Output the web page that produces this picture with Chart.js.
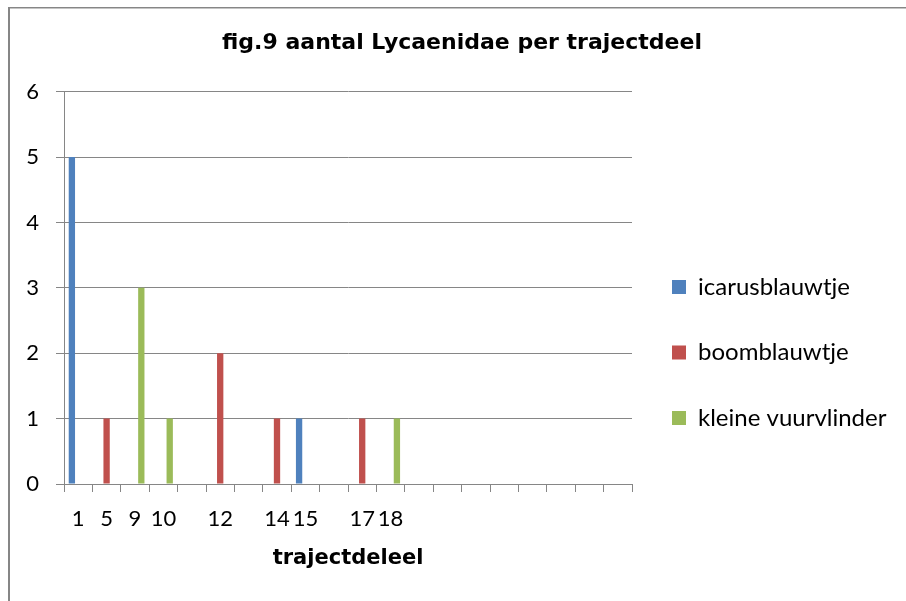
<!DOCTYPE html>
<html><head><meta charset="utf-8">
<script src="https://cdn.jsdelivr.net/npm/chart.js@4.4.1/dist/chart.umd.min.js"></script>
<style>html,body{margin:0;padding:0;background:#fff;}</style>
</head><body>
<canvas id="c" width="906" height="601"></canvas>
<script>
const categories = ['1','5','9','10','','12','','14','15','','17','18','','','','','','','',''];
const icarusblauwtje    = [5,null,null,null,null,null,null,null,1,null,null,null,null,null,null,null,null,null,null,null];
const boomblauwtje      = [null,1,null,null,null,2,null,1,null,null,1,null,null,null,null,null,null,null,null,null];
const kleineVuurvlinder = [null,null,3,1,null,null,null,null,null,null,null,1,null,null,null,null,null,null,null,null];
const seriesNames = ['icarusblauwtje','boomblauwtje','kleine vuurvlinder'];
const seriesColors = ['#4F81BD','#C0504D','#9BBB59'];
const yMin = 0, yMax = 6, yStep = 1;
const chartTitle = 'fig.9 aantal Lycaenidae per trajectdeel';
const xTitle = 'trajectdeleel';

const GRAY = '#868686';
const frame = {
  id: 'frame',
  beforeDraw(chart) {
    const ctx = chart.ctx;
    ctx.save();
    ctx.fillStyle = '#fff';
    ctx.fillRect(0, 0, chart.width, chart.height);
    ctx.fillStyle = GRAY;
    ctx.fillRect(8, 7, 2, chart.height - 7);
    ctx.fillRect(8, 7, chart.width - 8, 1);
    ctx.fillStyle = '#c4c4c4';
    ctx.fillRect(10, 8, chart.width - 10, 1);
    ctx.restore();
    const lg = chart.legend;
    lg.left = 630.5; lg.top = 233.5; lg.right = 906; lg.bottom = 601;
    lg.width = lg.right - lg.left; lg.height = lg.bottom - lg.top;
    const tb = chart.titleBlock;
    tb.left = 18; tb.right = 906; tb.width = tb.right - tb.left;
  }
};

new Chart(document.getElementById('c'), {
  type: 'bar',
  data: {
    labels: categories,
    datasets: [icarusblauwtje, boomblauwtje, kleineVuurvlinder].map((d, i) => ({
      label: seriesNames[i], data: d,
      backgroundColor: seriesColors[i], borderColor: seriesColors[i], borderWidth: 0,
      categoryPercentage: 0.667, barPercentage: 1.0
    }))
  },
  options: {
    responsive: false, animation: false,
    layout: { padding: { left: 0, right: 274, top: 0, bottom: 0 } },
    plugins: {
      title: { display: true, text: chartTitle, color: '#000',
        font: { family: 'DejaVu Sans', weight: 'bold', size: 22 },
        padding: { top: 30, bottom: 35.3 } },
      legend: { position: 'chartArea', align: 'start',
        labels: { boxWidth: 14, boxHeight: 14, padding: 41.5, color: '#000',
          font: { family: 'Lato', size: 24 } } },
      tooltip: { enabled: false }
    },
    scales: {
      x: {
        grid: { offset: true, drawOnChartArea: false, drawTicks: true, tickLength: 8, color: GRAY },
        border: { color: GRAY },
        ticks: { color: '#000', font: { family: 'Lato', size: 22 }, padding: 14, maxRotation: 0, autoSkip: false },
        title: { display: true, text: xTitle, color: '#000',
          font: { family: 'DejaVu Sans', weight: 'bold', size: 21 }, padding: { top: 0, bottom: 30 } },
        afterFit(s) { s.height = 117; }
      },
      y: {
        min: yMin, max: yMax,
        grid: { color: GRAY, tickLength: 8 },
        border: { color: GRAY },
        ticks: { stepSize: yStep, color: '#000', font: { family: 'Lato', size: 22 }, padding: 17 },
        afterFit(s) { s.width = 64; }
      }
    }
  },
  plugins: [frame]
});
</script>
</body></html>
